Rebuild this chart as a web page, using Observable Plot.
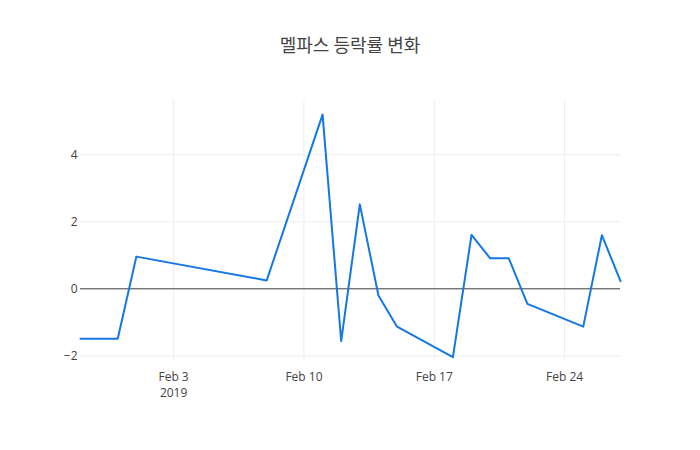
<!DOCTYPE html>
<html>
<head>
<meta charset="utf-8">
<script src="https://cdn.jsdelivr.net/npm/d3@7"></script>
<script src="https://cdn.jsdelivr.net/npm/@observablehq/plot@0.6"></script>
<style>
  html, body { margin: 0; padding: 0; background: #fff; }
  #wrap { width: 700px; height: 450px; overflow: hidden; }
  #title { height: 80px; box-sizing: border-box; padding-top: 32px; text-align: center;
           font-family: "Noto Sans CJK KR", "Open Sans", sans-serif; font-size: 18px; color: #444; line-height: 24px; }
</style>
</head>
<body>
<div id="wrap">
  <div id="title">멜파스 등락률 변화</div>
  <div id="chart"></div>
</div>
<script>
const dates = ["2019-01-29","2019-01-31","2019-02-01","2019-02-08","2019-02-11","2019-02-12","2019-02-13",
  "2019-02-14","2019-02-15","2019-02-18","2019-02-19","2019-02-20","2019-02-21","2019-02-22",
  "2019-02-25","2019-02-26","2019-02-27"];
const changes = [-1.49, -1.49, 0.96, 0.25, 5.20, -1.56, 2.52, -0.20, -1.13, -2.04, 1.61, 0.91, 0.91, -0.45, -1.13, 1.60, 0.23];
const xTicks = ["2019-02-03","2019-02-10","2019-02-17","2019-02-24"];
const yTicks = [-2, 0, 2, 4];

const data = dates.map((d, i) => ({date: new Date(d), value: changes[i]}));
const xTickDates = xTicks.map(d => new Date(d));
const fmtX = (d, i) => {
  const s = d3.utcFormat("%b %-d")(d);
  return i === 0 ? s + "\n" + d3.utcFormat("%Y")(d) : s;
};
const fmtY = d => d < 0 ? "\u2212" + Math.abs(d) : String(d);

const chart = Plot.plot({
  width: 700,
  height: 370,
  marginLeft: 80,
  marginRight: 80,
  marginTop: 20,
  marginBottom: 90,
  style: {fontFamily: "'Open Sans', sans-serif", fontSize: "12px", color: "#444", background: "#fff"},
  x: {type: "utc", domain: [new Date(dates[0]), new Date(dates[dates.length - 1])]},
  y: {domain: [-2.14, 5.62]},
  marks: [
    Plot.gridX(xTickDates, {stroke: "#eee", strokeOpacity: 1}),
    Plot.gridY(yTicks, {stroke: "#eee", strokeOpacity: 1}),
    Plot.ruleY([0], {stroke: "#444", strokeWidth: 1}),
    Plot.axisX(xTickDates, {tickSize: 0, tickPadding: 9, tickFormat: fmtX, label: null, fill: "#444", fontSize: 12, lineHeight: 1.35}),
    Plot.axisY(yTicks, {tickSize: 0, tickPadding: 3, tickFormat: fmtY, label: null, fill: "#444", fontSize: 12}),
    Plot.line(data, {x: "date", y: "value", stroke: "#1478e4", strokeWidth: 2})
  ]
});
document.getElementById("chart").appendChild(chart);
</script>
</body>
</html>
